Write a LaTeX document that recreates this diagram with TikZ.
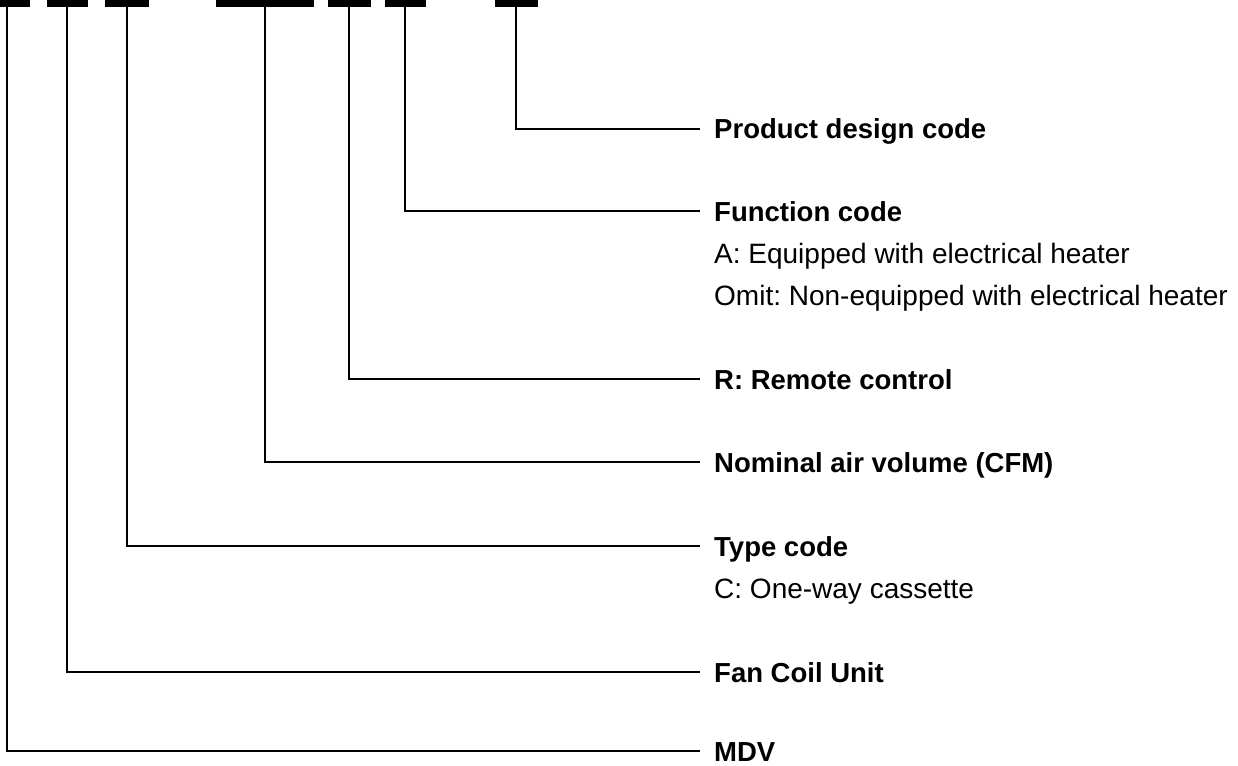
\documentclass[tikz,border=0pt]{standalone}
\usepackage{fontspec}
\setmainfont{Liberation Sans}
\frenchspacing
\usetikzlibrary{positioning}
\tikzset{
  seg/.style  = {rectangle, fill=black, inner sep=0pt, outer sep=0pt,
                 minimum height=7pt},
  lead/.style = {line width=1.8pt, black, shorten >=14pt},
  ttl/.style  = {anchor=west, inner sep=0pt, text height=20pt, text depth=0pt,
                 font=\fontsize{27.5}{33}\selectfont\bfseries},
  sub/.style  = {anchor=west, inner sep=0pt, text height=20pt, text depth=0pt,
                 font=\fontsize{28}{33}\selectfont}
}

\begin{document}
\begin{tikzpicture}[x=1pt, y=-1pt]
  \useasboundingbox (0,0) rectangle (1238,765);

  %% Code segments along the top
  \node[seg, minimum width=46pt] (s1) at (  7,3.5) {};
  \node[seg, minimum width=41pt] (s2) at ( 67,3.5) {};
  \node[seg, minimum width=44pt] (s3) at (127,3.5) {};
  \node[seg, minimum width=98pt] (s4) at (265,3.5) {};
  \node[seg, minimum width=43pt] (s5) at (349,3.5) {};
  \node[seg, minimum width=41pt] (s6) at (405,3.5) {};
  \node[seg, minimum width=43pt] (s7) at (516,3.5) {};

  %% Labels
  \node[ttl] (design) at (714,129) {Product design code};
  \node[ttl] (func)   at (714,211) {Function code};
  \node[sub] (funcA)  at (714,253) {A: Equipped with electrical heater};
  \node[sub] (funcO)  at (714,295) {Omit: Non-equipped with electrical heater};
  \node[ttl] (remote) at (714,379) {R: Remote control};
  \node[ttl] (volume) at (714,462) {Nominal air volume (CFM)};
  \node[ttl] (type)   at (714,546) {Type code};
  \node[sub] (typeC)  at (714,588) {C: One-way cassette};
  \node[ttl] (fcu)    at (714,672) {Fan Coil Unit};
  \node[ttl] (mdv)    at (714,751) {MDV};

  %% Leaders
  \draw[lead] (s7.south) |- (design.west);
  \draw[lead] (s6.south) |- (func.west);
  \draw[lead] (s5.south) |- (remote.west);
  \draw[lead] (s4.south) |- (volume.west);
  \draw[lead] (s3.south) |- (type.west);
  \draw[lead] (s2.south) |- (fcu.west);
  \draw[lead] (s1.south) |- (mdv.west);

\end{tikzpicture}
\end{document}
